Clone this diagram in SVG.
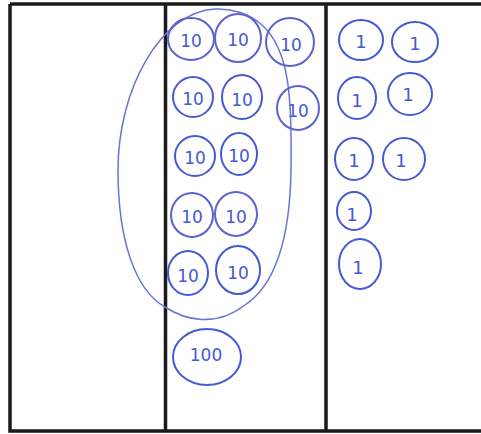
<svg xmlns="http://www.w3.org/2000/svg" width="481" height="434" viewBox="0 0 481 434">
<style>
.frame{fill:none;stroke:#1a1a1a;stroke-width:3.5}
.c{fill:none;stroke:#4659d4;stroke-width:2}
.cl{fill:none;stroke:#5c63cc;stroke-width:2}
.t{font-family:"DejaVu Sans",sans-serif;font-size:17px;fill:#4659d4;text-anchor:middle;dominant-baseline:central}
.o{font-family:"DejaVu Sans",sans-serif;font-size:18px;fill:#4659d4;text-anchor:middle;dominant-baseline:central}
.loop{fill:none;stroke:#6b72d6;stroke-width:1.5}
</style>
<rect x="0" y="0" width="481" height="434" fill="#ffffff"/>
<g id="chart">
<path class="frame" d="M10 4 L481 4 M10 4 L10 431 L481 431 M165.5 4 L165.5 431 M326 4 L326 431"/>
</g>
<g id="group-loop">
<path class="loop" d="M215 9 C160 12 118 90 118 170 C118 240 135 290 165 307 C185 320 215 328 245 305 C275 285 290 240 291 170 C292 100 290 50 262 25 C250 14 232 8 215 9 Z"/>
</g>
<g id="tens">
<g id="t1"><ellipse class="cl" cx="191" cy="39" rx="23" ry="21"/><text class="t" x="191" y="41">10</text></g>
<g id="t2"><ellipse class="cl" cx="238" cy="38" rx="23" ry="24"/><text class="t" x="238" y="40">10</text></g>
<g id="t3"><ellipse class="cl" cx="290" cy="42" rx="24" ry="24"/><text class="t" x="291" y="45">10</text></g>
<g id="t4"><ellipse class="c" cx="193" cy="97" rx="20" ry="20"/><text class="t" x="193" y="99">10</text></g>
<g id="t5"><ellipse class="c" cx="242" cy="97" rx="20" ry="22"/><text class="t" x="242" y="100">10</text></g>
<g id="t6"><ellipse class="cl" cx="298" cy="108" rx="21" ry="22"/><text class="t" x="298" y="111">10</text></g>
<g id="t7"><ellipse class="c" cx="195" cy="156" rx="20" ry="20"/><text class="t" x="195" y="158">10</text></g>
<g id="t8"><ellipse class="c" cx="239" cy="154" rx="18" ry="21"/><text class="t" x="239" y="156">10</text></g>
<g id="t9"><ellipse class="cl" cx="192" cy="215" rx="21" ry="22"/><text class="t" x="192" y="217">10</text></g>
<g id="t10"><ellipse class="cl" cx="236" cy="214" rx="21" ry="22"/><text class="t" x="236" y="217">10</text></g>
<g id="t11"><ellipse class="c" cx="188" cy="273" rx="20" ry="22"/><text class="t" x="188" y="276">10</text></g>
<g id="t12"><ellipse class="c" cx="238" cy="270" rx="22" ry="24"/><text class="t" x="238" y="273">10</text></g>
</g>
<g id="hundred">
<ellipse class="c" cx="207" cy="357" rx="34" ry="28"/><text class="t" x="206" y="355">100</text>
</g>
<g id="ones">
<g id="o1"><ellipse class="c" cx="361" cy="40" rx="22" ry="20"/><text class="o" x="361" y="41">1</text></g>
<g id="o2"><ellipse class="c" cx="415" cy="42" rx="23" ry="20"/><text class="o" x="415" y="43">1</text></g>
<g id="o3"><ellipse class="c" cx="357" cy="98" rx="19" ry="21"/><text class="o" x="357" y="100">1</text></g>
<g id="o4"><ellipse class="c" cx="410" cy="94" rx="22" ry="21"/><text class="o" x="408" y="94">1</text></g>
<g id="o5"><ellipse class="c" cx="354" cy="159" rx="19" ry="21"/><text class="o" x="354" y="160">1</text></g>
<g id="o6"><ellipse class="c" cx="404" cy="159" rx="21" ry="21"/><text class="o" x="401" y="160">1</text></g>
<g id="o7"><ellipse class="c" cx="354" cy="211" rx="17" ry="19"/><text class="o" x="352" y="214">1</text></g>
<g id="o8"><ellipse class="c" cx="360" cy="264" rx="21" ry="25"/><text class="o" x="358" y="267">1</text></g>
</g>
</svg>
